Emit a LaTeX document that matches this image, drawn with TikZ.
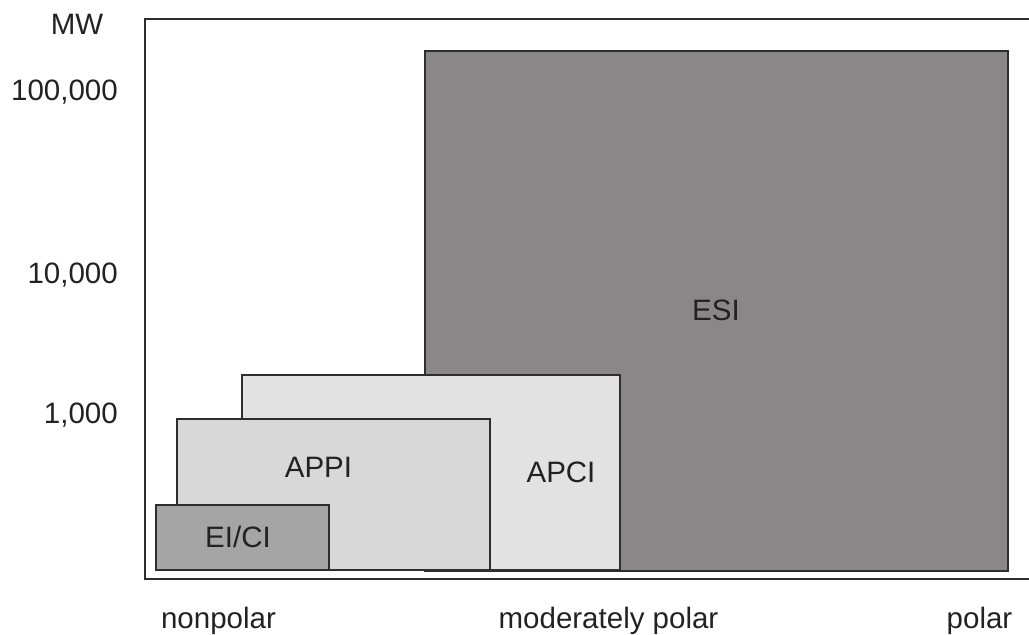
\documentclass[tikz,border=0pt]{standalone}
\usepackage{fontspec}
\setmainfont{Liberation Sans}
\definecolor{esicol}{HTML}{898788}
\definecolor{apcicol}{HTML}{E2E2E2}
\definecolor{appicol}{HTML}{D8D8D8}
\definecolor{eicol}{HTML}{A6A5A5}
\definecolor{linecol}{HTML}{2E2E2E}
\definecolor{txtcol}{HTML}{222222}
\begin{document}
\begin{tikzpicture}[x=1pt,y=-1pt,
  box/.style={draw=linecol,line width=1.7pt},
  lbl/.style={anchor=base,inner sep=0pt,text=txtcol,font=\fontsize{29.5}{34}\selectfont},
  ylbl/.style={anchor=base east,inner sep=0pt,text=txtcol,font=\fontsize{29.5}{34}\selectfont}]
\useasboundingbox (0,0) rectangle (1029,635);
\draw[linecol,line width=1.7pt] (1029,19) -- (145,19) -- (145,579) -- (1029,579);
\draw[box,fill=esicol] (425,51) rectangle (1008,571);
\draw[box,fill=apcicol] (242,375) rectangle (620,570);
\draw[box,fill=appicol] (177,419) rectangle (490,570);
\draw[box,fill=eicol] (156,505) rectangle (329,570);
\node[lbl] (esi) at (716,320) {ESI};
\node[lbl] (apci) at (561,482) {APCI};
\node[lbl] (appi) at (318.5,477) {APPI};
\node[lbl] (eici) at (238,547) {EI/CI};
\node[lbl] (mw) at (77,34) {MW};
\node[ylbl] (y5) at (118,100) {100,000};
\node[ylbl] (y4) at (118,283) {10,000};
\node[ylbl] (y3) at (118,423) {1,000};
\node[lbl] (np) at (218.5,628) {nonpolar};
\node[lbl] (mp) at (608.5,628) {moderately polar};
\node[lbl] (po) at (979.5,628) {polar};
\end{tikzpicture}
\end{document}
